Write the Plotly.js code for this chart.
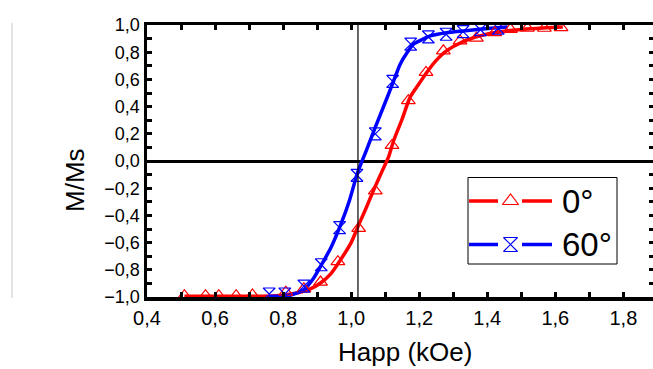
<!DOCTYPE html>
<html><head><meta charset="utf-8">
<script src="https://cdn.plot.ly/plotly-3.0.1.min.js"></script>
<style>html,body{margin:0;padding:0;overflow:hidden;background:#fff;width:653px;height:369px}</style>
</head><body><div id="chart" style="width:664px;height:369px"></div>
<script>
// ---- data ----
const seriesNames = ['0°', '60°'];
const seriesColors = ['#ff0000', '#0000ff'];

// fitted curves
const fitX0 = [0.51, 0.60, 0.70, 0.78, 0.84, 0.88, 0.91, 0.94, 0.969, 1.0, 1.022, 1.045, 1.066, 1.09, 1.11, 1.125, 1.15, 1.173, 1.2, 1.222, 1.25, 1.28, 1.329, 1.398, 1.475, 1.573, 1.622];
const fitY0 = [-0.995, -0.995, -0.995, -0.99, -0.97, -0.94, -0.897, -0.83, -0.726, -0.6, -0.47, -0.34, -0.214, -0.08, 0.03, 0.151, 0.31, 0.468, 0.57, 0.651, 0.74, 0.81, 0.878, 0.932, 0.961, 0.98, 0.985];
const fitX60 = [0.757, 0.80, 0.823, 0.861, 0.89, 0.91, 0.94, 0.969, 0.995, 1.018, 1.045, 1.071, 1.1, 1.125, 1.144, 1.165, 1.183, 1.21, 1.232, 1.28, 1.329, 1.427, 1.46];
const fitY60 = [-0.995, -0.993, -0.985, -0.946, -0.86, -0.775, -0.64, -0.47, -0.29, -0.092, 0.08, 0.249, 0.43, 0.59, 0.712, 0.80, 0.859, 0.895, 0.92, 0.943, 0.956, 0.98, 0.985];

// measured points
const dataX0 = [0.51, 0.572, 0.611, 0.662, 0.71, 0.808, 0.861, 0.91, 0.961, 1.022, 1.071, 1.12, 1.168, 1.22, 1.271, 1.32, 1.368, 1.422, 1.468, 1.518, 1.568, 1.617];
const dataY0 = [-0.99, -0.99, -0.99, -0.99, -0.985, -0.965, -0.94, -0.89, -0.74, -0.495, -0.22, 0.115, 0.444, 0.651, 0.81, 0.883, 0.903, 0.944, 0.968, 0.976, 0.976, 0.98];
const dataX60 = [0.759, 0.805, 0.861, 0.912, 0.966, 1.017, 1.071, 1.122, 1.175, 1.227, 1.279, 1.329, 1.38, 1.432];
const dataY60 = [-0.978, -0.978, -0.92, -0.763, -0.49, -0.105, 0.2, 0.585, 0.859, 0.912, 0.932, 0.951, 0.965, 0.976];

const refLineX = 1.02;
const xTitle = 'Happ (kOe)';
const yTitle = 'M/Ms';

// ---- layout geometry ----
const W = 664, H = 369;
const M = {l: 147, r: 10, t: 25, b: 72};
const pL = M.l, pR = W - M.r, pT = M.t, pB = H - M.b;

const font = 'Liberation Sans, Arial, sans-serif';

const traces = [
  {x: fitX0, y: fitY0, mode: 'lines', line: {color: seriesColors[0], width: 3.5, shape: 'spline', smoothing: 0.6}, hoverinfo: 'skip'},
  {x: fitX60, y: fitY60, mode: 'lines', line: {color: seriesColors[1], width: 3.5, shape: 'spline', smoothing: 0.6}, hoverinfo: 'skip'},
  {x: dataX0, y: dataY0, mode: 'markers', marker: {symbol: 'triangle-up-open', size: 12, color: seriesColors[0], line: {width: 1.2, color: seriesColors[0]}}},
  {x: dataX60, y: dataY60, mode: 'markers', marker: {symbol: 'hourglass-open', size: 12, color: seriesColors[1], line: {width: 1.2, color: seriesColors[1]}}}
];

// custom legend (pixel coordinates on an overlay axis pair)
const legRows = [201, 244.5];
const legLine = [[469, 498], [522, 552]];
const legMarkerX = 510.5;
const legSymbols = ['triangle-up-open', 'hourglass-open'];
seriesNames.forEach((n, i) => {
  legLine.forEach(seg => traces.push({x: seg, y: [legRows[i], legRows[i]], xaxis: 'x2', yaxis: 'y2', mode: 'lines', line: {color: seriesColors[i], width: 3.5}, hoverinfo: 'skip'}));
  traces.push({x: [legMarkerX], y: [legRows[i]], xaxis: 'x2', yaxis: 'y2', mode: 'markers', marker: {symbol: legSymbols[i], size: 14, color: seriesColors[i], line: {width: 1.2, color: seriesColors[i]}}, hoverinfo: 'skip'});
});

const axisCommon = {
  showline: true, linecolor: '#000', linewidth: 3.5, mirror: 'ticks',
  ticks: 'inside', ticklen: 5, tickwidth: 3, tickcolor: '#000',
  showgrid: false, zeroline: false, tickformat: '.1f',
  minor: {ticks: 'inside', ticklen: 5, tickwidth: 3, tickcolor: '#000', showgrid: false}
};

const layout = {
  width: W, height: H, margin: M,
  paper_bgcolor: '#fff', plot_bgcolor: '#fff',
  showlegend: false, separators: ',.',
  font: {family: font, color: '#000'},
  xaxis: Object.assign({}, axisCommon, {range: [0.4, 1.89], tick0: 0.4, dtick: 0.2, minor: Object.assign({}, axisCommon.minor, {dtick: 0.1}), tickfont: {size: 20, family: font}}),
  yaxis: Object.assign({}, axisCommon, {range: [-1, 1], dtick: 0.2, minor: Object.assign({}, axisCommon.minor, {dtick: 0.1}), tickfont: {size: 18, family: font}, zeroline: true, zerolinecolor: '#000', zerolinewidth: 3}),
  xaxis2: {overlaying: 'x', range: [pL, pR], visible: false, fixedrange: true},
  yaxis2: {overlaying: 'y', range: [pB, pT], visible: false, fixedrange: true},
  shapes: [
    {type: 'line', xref: 'x', yref: 'paper', x0: refLineX, x1: refLineX, y0: 0, y1: 1, line: {color: '#000', width: 1.2}, layer: 'above'},
    {type: 'rect', xref: 'x2', yref: 'y2', x0: 468, x1: 617, y0: 177.5, y1: 264, line: {color: '#000', width: 1}, fillcolor: '#fff', layer: 'below'},
    {type: 'line', xref: 'paper', yref: 'paper', x0: (12 - pL) / (pR - pL), x1: (12 - pL) / (pR - pL), y0: (pB - 298) / (pB - pT), y1: (pB - 23) / (pB - pT), line: {color: '#c8c8c8', width: 1}}
  ],
  annotations: [
    {text: xTitle, xref: 'paper', yref: 'paper', x: (404.7 - pL) / (pR - pL), y: (pB - 352) / (pB - pT), xanchor: 'center', yanchor: 'middle', showarrow: false, font: {size: 26, family: font}},
    {text: yTitle, xref: 'paper', yref: 'paper', x: (75 - pL) / (pR - pL), y: (pB - 180) / (pB - pT), xanchor: 'center', yanchor: 'middle', textangle: -90, showarrow: false, font: {size: 26, family: font}},
    {text: seriesNames[0], xref: 'x2', yref: 'y2', x: 560, y: legRows[0], xanchor: 'left', yanchor: 'middle', showarrow: false, font: {size: 33, family: font}},
    {text: seriesNames[1], xref: 'x2', yref: 'y2', x: 560, y: legRows[1], xanchor: 'left', yanchor: 'middle', showarrow: false, font: {size: 33, family: font}}
  ]
};

Plotly.newPlot('chart', traces, layout, {staticPlot: true, displayModeBar: false});
</script></body></html>
